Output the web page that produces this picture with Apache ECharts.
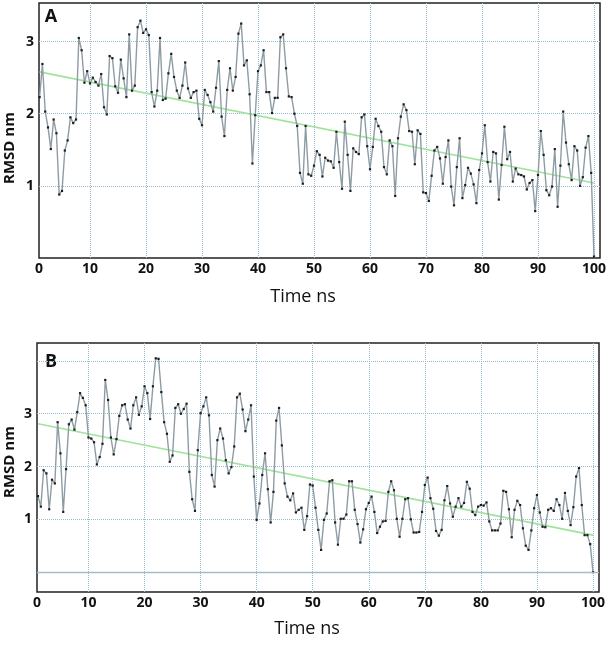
<!DOCTYPE html>
<html><head><meta charset="utf-8">
<script src="https://cdn.jsdelivr.net/npm/echarts@6/dist/echarts.min.js"></script>
<style>html,body{margin:0;padding:0;background:#fff}#c{width:614px;height:646px}</style>
</head><body><div id="c"></div>
<script>
// ---- data ----
const timeStart = 1, timeStep = 0.5; // ns, sampling grid
const rmsdA = [
2.23,2.69,2.03,1.81,1.51,1.92,1.73,0.88,0.93,1.49,
1.63,1.95,1.87,1.92,3.05,2.88,2.43,2.59,2.42,2.50,
2.44,2.39,2.55,2.09,1.99,2.80,2.77,2.38,2.29,2.75,
2.49,2.23,3.10,2.32,2.39,3.20,3.29,3.12,3.17,3.09,
2.30,2.10,2.32,3.05,2.19,2.21,2.56,2.83,2.51,2.32,
2.22,2.39,2.71,2.35,2.22,2.30,2.32,1.93,1.84,2.33,
2.26,2.16,2.03,2.36,2.73,1.96,1.69,2.33,2.63,2.32,
2.51,3.11,3.25,2.67,2.74,2.27,1.31,1.98,2.59,2.67,
2.88,2.30,2.30,2.01,2.22,2.22,3.06,3.10,2.63,2.24,
2.23,2.00,1.83,1.18,1.03,1.83,1.16,1.14,1.28,1.48,
1.43,1.13,1.39,1.35,1.34,1.25,1.75,1.33,0.96,1.89,
1.43,0.93,1.52,1.47,1.44,1.95,1.99,1.55,1.23,1.54,
1.93,1.83,1.75,1.26,1.16,1.63,1.55,0.86,1.66,1.96,
2.13,2.05,1.76,1.75,1.30,1.77,1.72,0.91,0.90,0.79,
1.14,1.49,1.54,1.38,1.03,1.40,1.63,0.99,0.73,1.26,
1.66,0.83,1.01,1.25,1.17,1.02,0.76,1.22,1.45,1.84,
1.33,1.06,1.47,1.45,0.81,1.29,1.82,1.37,1.47,1.06,
1.24,1.16,1.15,1.13,0.95,1.04,1.08,0.65,1.15,1.76,
1.43,0.94,0.87,0.99,1.51,0.71,1.28,2.03,1.60,1.30,
1.08,1.55,1.49,1.00,1.12,1.53,1.69,1.18,0.02
];
const rmsdB = [
1.44,1.24,1.93,1.87,1.19,1.75,1.68,2.84,2.25,1.14,
1.95,2.80,2.89,2.70,3.03,3.39,3.30,3.16,2.55,2.53,
2.46,2.04,2.18,2.43,3.64,3.26,2.55,2.23,2.52,2.96,
3.16,3.18,2.89,2.72,3.16,3.31,2.98,3.14,3.52,3.39,
2.90,3.52,4.05,4.04,3.41,2.84,2.62,2.09,2.21,3.11,
3.18,3.00,3.09,3.19,1.90,1.38,1.16,2.31,3.01,3.14,
3.31,2.97,1.84,1.62,2.50,2.72,2.53,2.12,1.87,1.99,
2.38,3.31,3.38,3.08,2.67,2.89,3.16,1.81,0.99,1.30,
1.84,2.25,1.57,0.94,1.52,2.87,3.11,2.40,1.68,1.43,
1.36,1.49,1.13,1.18,1.22,0.80,1.06,1.66,1.64,1.22,
0.80,0.42,0.99,1.11,1.72,1.74,0.94,0.52,1.01,1.01,
1.09,1.72,1.72,1.18,0.91,0.56,0.81,1.19,1.31,1.43,
1.14,0.74,0.86,0.96,0.97,1.52,1.72,1.55,1.01,0.67,
1.01,1.38,1.40,1.00,0.75,0.75,0.76,1.14,1.65,1.79,
1.40,1.20,0.78,0.69,0.80,1.36,1.63,1.30,1.05,1.24,
1.40,1.24,1.31,1.71,1.58,1.14,1.08,1.24,1.27,1.26,
1.32,0.96,0.79,0.79,0.79,0.92,1.54,1.52,1.19,0.66,
1.18,1.35,1.27,0.83,0.50,0.42,0.79,1.21,1.46,1.13,
0.86,0.85,1.18,1.21,1.16,1.38,1.27,1.01,1.50,1.16,
0.89,1.23,1.81,1.97,1.27,0.70,0.70,0.53,0.00
];
const trendA = [[1, 2.58], [100, 1.04]];
const trendB = [[1, 2.81], [100, 0.70]];
const xGridValues = [10,20,30,40,50,60,70,80,90,100];
const xLabelTexts = ['0','10','20','30','40','50','60','70','80','90','100'];
const yGridA = [1,2,3];
const yGridB = [1,2,3,4];
const yLabels = [1,2,3];
const panelNames = ['A','B'];
const xTitle = 'Time ns';
const yTitle = 'RMSD nm';

// ---- chart ----
const xMinA = 0.89, xMinB = 0.82, xMax = 101.07;
const pts = arr => arr.map((v,i) => [timeStart + timeStep*i, v]);
const tickFont = {fontFamily:'Open Sans', fontWeight:'bold', fontSize:14, color:'#111'};
const gridLine = {show:true, lineStyle:{type:'dotted', color:'#98bccd', width:1}};
function xAxisFor(idx, xMin){
  return {
    gridIndex: idx, type:'value', min:xMin, max:xMax,
    axisLine:{show:false}, axisTick:{show:false, customValues:xGridValues},
    splitLine: gridLine,
    axisLabel: Object.assign({margin:4, customValues:[xMin].concat(xGridValues),
      formatter: v => xLabelTexts[Math.round(v/10)]}, tickFont)
  };
}
function yAxisFor(idx, min, max, grid){
  return {
    gridIndex: idx, type:'value', min:min, max:max,
    axisLine:{show:false}, axisTick:{show:false, customValues:grid},
    splitLine: gridLine,
    axisLabel: Object.assign({margin:5, customValues:yLabels}, tickFont)
  };
}
const lineSeries = (idx, data) => ({
  type:'line', xAxisIndex:idx, yAxisIndex:idx, data: pts(data),
  symbol:'rect', symbolSize:2.2, showSymbol:true, z:3,
  itemStyle:{color:'#1c1c1c'},
  lineStyle:{color:'#8d9ca4', width:1.4}, animation:false, silent:true
});
const trendSeries = (idx, data) => ({
  type:'line', xAxisIndex:idx, yAxisIndex:idx, data:data, symbol:'none', z:2,
  lineStyle:{color:'#9fe39c', width:1.6}, animation:false, silent:true
});

const chart = echarts.init(document.getElementById('c'), null, {renderer:'canvas'});
const sB = lineSeries(1, rmsdB);
sB.markLine = {silent:true, symbol:'none', label:{show:false}, animation:false,
  lineStyle:{type:'solid', color:'#a9bbc5', width:1.3}, data:[{yAxis:0}]};
chart.setOption({
  backgroundColor:'#fff',
  animation:false,
  grid:[
    {left:39, top:3, width:561, height:255, show:true, borderColor:'#222', borderWidth:1.5},
    {left:37, top:343, width:562, height:249, show:true, borderColor:'#222', borderWidth:1.5}
  ],
  xAxis:[xAxisFor(0, xMinA), xAxisFor(1, xMinB)],
  yAxis:[yAxisFor(0, 0, 3.535, yGridA), yAxisFor(1, -0.377, 4.34, yGridB)],
  series:[trendSeries(0, trendA), lineSeries(0, rmsdA), trendSeries(1, trendB), sB],
  graphic:[
    {type:'text', x:51, y:16.5, style:{text:panelNames[0], font:'bold 18px "Open Sans"', fill:'#111', textAlign:'center', textVerticalAlign:'middle'}},
    {type:'text', x:51, y:361.5, style:{text:panelNames[1], font:'bold 18px "Open Sans"', fill:'#111', textAlign:'center', textVerticalAlign:'middle'}},
    {type:'text', x:10, y:148, rotation:Math.PI/2, style:{text:yTitle, font:'bold 15px "Open Sans"', fill:'#111', textAlign:'center', textVerticalAlign:'middle'}},
    {type:'text', x:10, y:462, rotation:Math.PI/2, style:{text:yTitle, font:'bold 15px "Open Sans"', fill:'#111', textAlign:'center', textVerticalAlign:'middle'}},
    {type:'text', x:303, y:297, style:{text:xTitle, font:'18px "Open Sans"', fill:'#111', textAlign:'center', textVerticalAlign:'middle'}},
    {type:'text', x:307, y:629, style:{text:xTitle, font:'18px "Open Sans"', fill:'#111', textAlign:'center', textVerticalAlign:'middle'}}
  ]
});
</script>
</body></html>
